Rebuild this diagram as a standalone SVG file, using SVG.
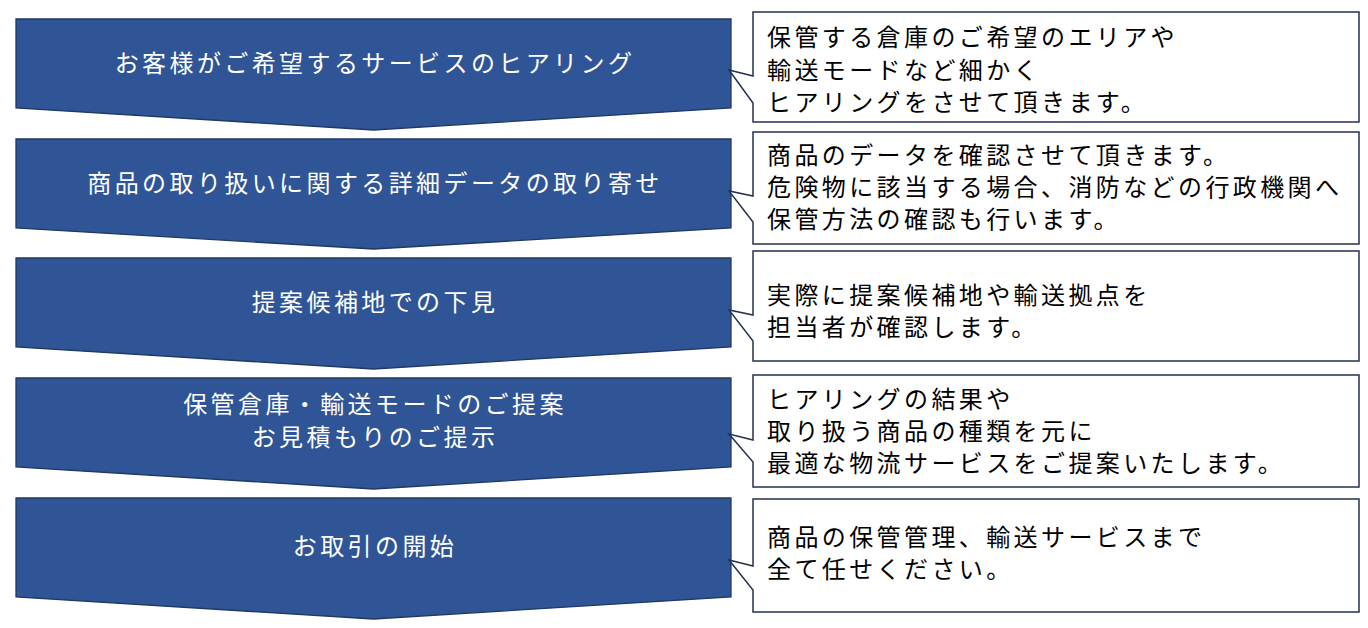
<svg xmlns="http://www.w3.org/2000/svg" width="1368" height="628" viewBox="0 0 1368 628">
<style>
.chev{fill:#2F5597;stroke:#203864;stroke-width:1.3}
.ct{fill:#FFFFFF;font-family:"Noto Sans CJK JP","Noto Sans",sans-serif;font-size:24px;letter-spacing:3.4px;text-anchor:middle}
.box{fill:#FFFFFF;stroke:#233150;stroke-width:1.5}
.bt{fill:#000000;font-family:"Noto Sans CJK JP","Noto Sans",sans-serif;font-size:24px;letter-spacing:3.4px}
</style>
<rect width="1368" height="628" fill="#FFFFFF"/>
<g id="step1">
<path class="chev" d="M16,19 H731 V108 L373.5,130 L16,108 Z"/>
<text class="ct" x="375" y="72">お客様がご希望するサービスのヒアリング</text>
</g>
<g id="step2">
<path class="chev" d="M16,139 H731 V228 L373.5,249 L16,228 Z"/>
<text class="ct" x="375" y="192">商品の取り扱いに関する詳細データの取り寄せ</text>
</g>
<g id="step3">
<path class="chev" d="M16,258 H731 V347 L373.5,369 L16,347 Z"/>
<text class="ct" x="375" y="311">提案候補地での下見</text>
</g>
<g id="step4">
<path class="chev" d="M16,378 H731 V467 L373.5,489 L16,467 Z"/>
<text class="ct" x="375" y="413">保管倉庫・輸送モードのご提案</text>
<text class="ct" x="375" y="446">お見積もりのご提示</text>
</g>
<g id="step5">
<path class="chev" d="M16,498 H731 V597 L373.5,619 L16,597 Z"/>
<text class="ct" x="375" y="555">お取引の開始</text>
</g>
<g id="note1">
<path class="box" d="M753,12 H1359 V122 H753 V103 L729,70 L753,76 Z"/>
<text class="bt" x="767" y="46">保管する倉庫のご希望のエリアや</text>
<text class="bt" x="767" y="79">輸送モードなど細かく</text>
<text class="bt" x="767" y="111">ヒアリングをさせて頂きます。</text>
</g>
<g id="note2">
<path class="box" d="M753,132 H1359 V244 H753 V222 L729,191 L753,196 Z"/>
<text class="bt" x="767" y="164">商品のデータを確認させて頂きます。</text>
<text class="bt" x="767" y="196">危険物に該当する場合、消防などの行政機関へ</text>
<text class="bt" x="767" y="228">保管方法の確認も行います。</text>
</g>
<g id="note3">
<path class="box" d="M753,251 H1359 V361 H753 V341 L729,310 L753,315 Z"/>
<text class="bt" x="767" y="304">実際に提案候補地や輸送拠点を</text>
<text class="bt" x="767" y="336">担当者が確認します。</text>
</g>
<g id="note4">
<path class="box" d="M753,375 H1359 V487 H753 V462 L729,434 L753,440 Z"/>
<text class="bt" x="767" y="408">ヒアリングの結果や</text>
<text class="bt" x="767" y="440">取り扱う商品の種類を元に</text>
<text class="bt" x="767" y="472">最適な物流サービスをご提案いたします。</text>
</g>
<g id="note5">
<path class="box" d="M753,499 H1359 V612 H753 V590 L729,560 L753,566 Z"/>
<text class="bt" x="767" y="546">商品の保管管理、輸送サービスまで</text>
<text class="bt" x="767" y="578">全て任せください。</text>
</g>
</svg>
